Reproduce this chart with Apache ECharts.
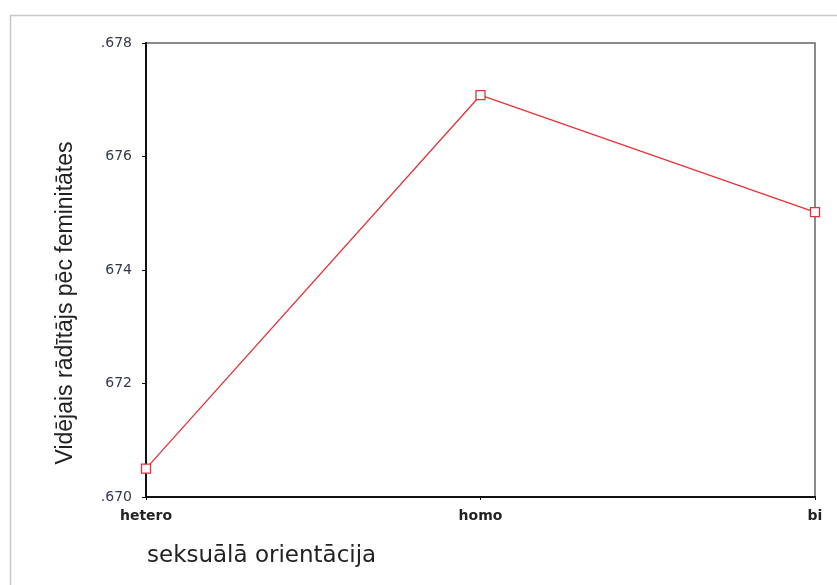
<!DOCTYPE html>
<html>
<head>
<meta charset="utf-8">
<script src="https://cdn.jsdelivr.net/npm/echarts@6/dist/echarts.min.js"></script>
<style>html,body{margin:0;padding:0;background:#fff}#c{width:837px;height:585px}</style>
</head>
<body>
<div id="c"></div>
<script>
var categories = ['hetero', 'homo', 'bi'];
var values = [0.6705, 0.67708, 0.67502];
var yTickLabels = {'0.67': '.670', '0.672': '672', '0.674': '674', '0.676': '676', '0.678': '.678'};
var xTitle = 'seksuālā orientācija';
var yTitle = 'Vidējais rādītājs pēc feminitātes';

var chart = echarts.init(document.getElementById('c'), null, {renderer: 'canvas'});
chart.setOption({
  animation: false,
  backgroundColor: '#fff',
  grid: {left: 146, top: 43, width: 669, height: 454, show: true, borderColor: '#666', borderWidth: 1.5, backgroundColor: 'transparent'},
  xAxis: {
    type: 'category', data: categories, boundaryGap: false,
    axisLine: {lineStyle: {color: '#111', width: 2}},
    axisTick: {show: true, length: 3, alignWithLabel: true, lineStyle: {color: '#111'}},
    axisLabel: {color: '#222', fontFamily: 'DejaVu Sans', fontSize: 14, fontWeight: 'bold', margin: 12},
    splitLine: {show: false}
  },
  yAxis: {
    type: 'value', min: 0.670, max: 0.678, interval: 0.002,
    axisLine: {show: true, lineStyle: {color: '#111', width: 2}},
    axisTick: {show: true, length: 4, lineStyle: {color: '#111'}},
    axisLabel: {color: '#333a4a', fontFamily: 'DejaVu Sans', fontSize: 14, margin: 14,
      formatter: function (v) { return yTickLabels[String(+v.toFixed(3))] || ''; }},
    splitLine: {show: false}
  },
  graphic: [
    {type: 'rect', left: 8, top: 13, shape: {width: 840, height: 580}, style: {fill: 'none', stroke: '#c8c8c8', lineWidth: 1.5}, z: -10},
    {type: 'text', x: 147, y: 556, style: {text: xTitle, fill: '#222', font: '23px DejaVu Sans', textVerticalAlign: 'middle', textAlign: 'left'}},
    {type: 'text', x: 66, y: 303, rotation: Math.PI / 2, style: {text: yTitle, fill: '#222', font: '23px Liberation Sans', textVerticalAlign: 'middle', textAlign: 'center'}}
  ],
  series: [{
    type: 'line', data: values,
    symbol: 'rect', symbolSize: 9, showAllSymbol: true,
    lineStyle: {color: '#e8303a', width: 1.3},
    itemStyle: {color: '#fff', borderColor: '#e8303a', borderWidth: 1.3},
    clip: false
  }]
});
</script>
</body>
</html>
